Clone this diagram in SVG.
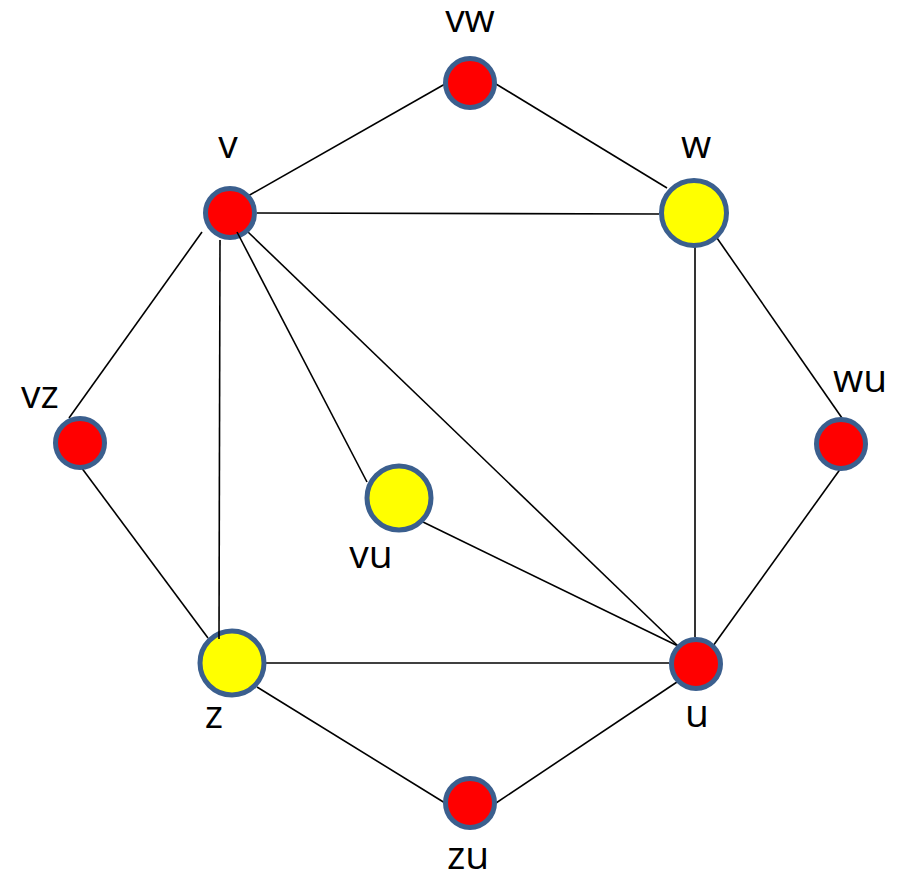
<svg xmlns="http://www.w3.org/2000/svg" width="911" height="879" viewBox="0 0 911 879">
  <style>
    .edge { stroke: #000; stroke-width: 1.6; fill: none; }
    .node { stroke: #3B5F8E; stroke-width: 5; }
    .red { fill: #FF0000; }
    .yellow { fill: #FFFF00; }
    .label { font-family: "Open Sans", "Liberation Sans", sans-serif; font-size: 39px; fill: #000; text-anchor: middle; }
  </style>
  <rect width="911" height="879" fill="#fff"/>

  <!-- connectors -->
  <g id="edges">
    <line class="edge" x1="248" y1="196" x2="445" y2="84"/>
    <line class="edge" x1="496" y1="84" x2="667" y2="188"/>
    <line class="edge" x1="257" y1="213" x2="659" y2="214"/>
    <line class="edge" x1="202" y1="232" x2="69" y2="418"/>
    <line class="edge" x1="81" y1="467" x2="208" y2="638"/>
    <line class="edge" x1="695" y1="247" x2="695" y2="637"/>
    <line class="edge" x1="717" y1="238" x2="842" y2="418"/>
    <line class="edge" x1="841" y1="468" x2="713" y2="646"/>
    <line class="edge" x1="265" y1="663" x2="669" y2="663"/>
    <line class="edge" x1="257" y1="687" x2="445" y2="803"/>
    <line class="edge" x1="496" y1="803" x2="677" y2="682"/>
    <line class="edge" x1="423" y1="522" x2="678" y2="646"/>
    <line class="edge" x1="248" y1="232" x2="678" y2="646"/>
  </g>

  <g id="node-vw"><circle class="node red" cx="470" cy="83" r="24.5"/><text class="label" x="470" y="32">vw</text></g>
  <g id="node-v"><circle class="node red" cx="230" cy="213" r="24.5"/><text class="label" x="228" y="158">v</text></g>
  <g id="node-w"><circle class="node yellow" cx="694" cy="213" r="32.5"/><text class="label" x="696" y="158">w</text></g>
  <g id="node-vz"><circle class="node red" cx="80" cy="443" r="24.5"/><text class="label" x="40" y="408">vz</text></g>
  <g id="node-wu"><circle class="node red" cx="841" cy="444" r="24.5"/><text class="label" x="860" y="392">wu</text></g>
  <g id="node-vu"><circle class="node yellow" cx="399" cy="498" r="32"/><text class="label" x="371" y="568">vu</text></g>
  <g id="node-z"><circle class="node yellow" cx="232" cy="663" r="32"/><text class="label" x="214" y="728">z</text></g>
  <g id="node-u"><circle class="node red" cx="696" cy="664" r="24.5"/><text class="label" x="697" y="727">u</text></g>
  <g id="node-zu"><circle class="node red" cx="470" cy="803" r="24.5"/><text class="label" x="468" y="869">zu</text></g>

  <!-- spokes from v that run over the node fills -->
  <g id="edges-over">
    <line class="edge" x1="220" y1="240" x2="219" y2="639"/>
    <line class="edge" x1="237" y1="232" x2="367" y2="482"/>
  </g>
</svg>
